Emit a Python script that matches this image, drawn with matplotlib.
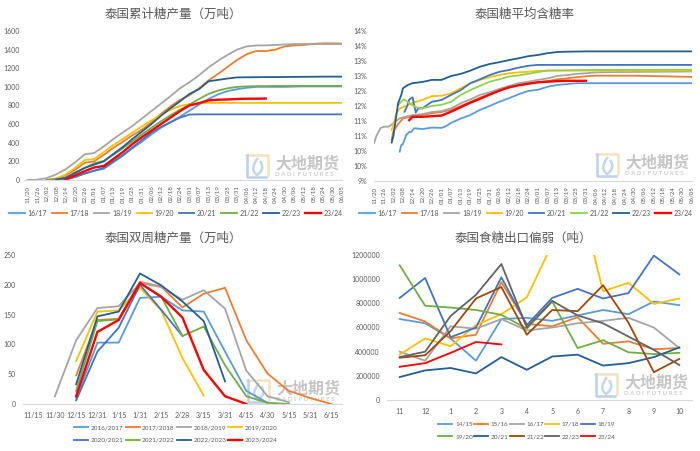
import numpy as np
import matplotlib
matplotlib.use('Agg')
import matplotlib.pyplot as plt
from matplotlib.lines import Line2D
from matplotlib.patches import PathPatch
from matplotlib.path import Path

plt.rcParams['font.family'] = ['Lato', 'Noto Sans CJK SC', 'DejaVu Sans']

n = None

# cumulative output, one value per 6-day report date
dates = ['11/20', '11/26', '12/02', '12/08', '12/14', '12/20', '12/26', '01/01', '01/07', '01/13', '01/19', '01/25',
         '01/31', '02/06', '02/12', '02/18', '02/24', '03/01', '03/07', '03/13', '03/19', '03/25', '03/31', '04/06',
         '04/12', '04/18', '04/24', '04/30', '05/06', '05/12', '05/18', '05/24', '05/30', '06/05']
cum_1617 = [n, n, n, n, 5, 30, 70, 100, 120, 190, 260, 340, 410, 490, 560, 620, 680, 745, 810, 870, 920, 955, 975, 990,
            1000, 1000, 1000, 1000, 1003, 1005, 1005, 1005, 1005, 1005]
cum_1718 = [n, n, 3, 15, 50, 110, 185, 200, 270, 345, 410, 480, 540, 620, 710, 790, 860, 910, 985, 1070, 1140, 1215,
            1290, 1350, 1385, 1385, 1400, 1435, 1445, 1450, 1462, 1468, 1468, 1465]
cum_1819 = [0, 3, 20, 60, 115, 190, 275, 290, 360, 440, 510, 580, 660, 740, 820, 900, 985, 1050, 1125, 1210, 1280, 1345,
            1400, 1435, 1445, 1445, 1450, 1455, 1460, 1460, 1460, 1460, 1460, 1460]
cum_1920 = [n, n, n, 15, 60, 130, 215, 225, 300, 375, 440, 510, 575, 640, 700, 755, 795, 815, 825, 828, 828, 828, 828,
            828, 828, 828, 828, 828, 828, 828, 828, 828, 828, 828]
cum_2021 = [n, n, n, 0, 8, 35, 70, 100, 130, 200, 270, 350, 430, 510, 570, 620, 670, 703, 705, 705, 705, 705, 705, 705,
            705, 705, 705, 705, 705, 705, 705, 705, 705, 705]
cum_2122 = [n, n, 0, 5, 20, 70, 130, 180, 205, 270, 340, 415, 490, 560, 630, 695, 755, 810, 870, 925, 960, 985, 1000,
            1005, 1008, 1008, 1010, 1010, 1010, 1010, 1010, 1010, 1010, 1010]
cum_2223 = [n, n, n, 5, 25, 80, 130, 165, 200, 280, 355, 440, 520, 600, 690, 770, 845, 925, 975, 1060, 1075, 1090, 1102,
            1103, 1104, 1105, 1105, 1106, 1107, 1108, 1109, 1110, 1110, 1110]
cum_2324 = [n, n, n, n, 5, 50, 95, 135, 150, 225, 300, 385, 460, 530, 600, 670, 740, 800, 825, 855, 862, 865, 870, 873,
            873, 875]

# sugar content, days counted from 11/20
cts_days_1617 = [16, 17, 18, 20, 22, 23, 25, 30, 36, 42, 45, 48, 54, 60, 66, 72, 78, 84, 90, 96, 102, 108, 114, 120, 126, 198]
cts_1617 = [9.98, 10.2, 10.23, 10.53, 10.64, 10.62, 10.76, 10.73, 10.78, 10.77, 10.83, 10.94, 11.08, 11.2, 11.37, 11.5,
            11.64, 11.76, 11.89, 12.0, 12.04, 12.14, 12.2, 12.23, 12.26, 12.26]
cts_days_1718 = [11, 12, 15, 18, 24, 30, 36, 42, 48, 54, 60, 66, 72, 78, 84, 90, 96, 102, 108, 114, 120, 126, 132, 138, 162, 180, 198]
cts_1718 = [10.37, 10.64, 10.9, 11.08, 11.16, 11.2, 11.26, 11.3, 11.37, 11.5, 11.64, 11.78, 11.9, 12.01, 12.12, 12.2,
            12.26, 12.29, 12.33, 12.39, 12.42, 12.46, 12.49, 12.51, 12.51, 12.49, 12.47]
cts_days_1819 = [0, 1.5, 4, 6, 9, 12, 16, 24, 30, 36, 42, 48, 54, 60, 66, 72, 78, 84, 90, 96, 102, 108, 114, 120, 126, 132, 138, 150, 198]
cts_1819 = [10.26, 10.5, 10.76, 10.81, 10.81, 10.92, 11.09, 11.2, 11.23, 11.3, 11.33, 11.42, 11.59, 11.72, 11.87, 11.96,
            12.07, 12.17, 12.26, 12.31, 12.37, 12.42, 12.5, 12.53, 12.57, 12.59, 12.62, 12.63, 12.65]
cts_days_1920 = [11, 14, 16, 20, 24, 30, 36, 42, 48, 54, 60, 66, 72, 78, 84, 90, 96, 102, 108, 198]
cts_1920 = [10.7, 11.26, 11.42, 11.5, 11.61, 11.7, 11.83, 11.84, 11.92, 12.09, 12.26, 12.37, 12.46, 12.53, 12.59, 12.62,
            12.64, 12.67, 12.68, 12.68]
cts_days_2021 = [19, 20.5, 22, 24, 26, 27.5, 30, 36, 42, 48, 54, 60, 66, 72, 78, 84, 90, 96, 102, 198]
cts_2021 = [11.31, 11.48, 11.72, 11.79, 11.28, 11.42, 11.42, 11.64, 11.7, 11.87, 12.03, 12.26, 12.39, 12.53, 12.64, 12.7,
            12.78, 12.84, 12.87, 12.87]
cts_days_2122 = [15, 18.5, 22, 26, 30, 36, 42, 48, 54, 60, 66, 72, 78, 84, 90, 96, 102, 108, 120, 132, 198]
cts_2122 = [11.53, 11.73, 11.59, 11.46, 11.42, 11.5, 11.54, 11.64, 11.87, 12.03, 12.17, 12.31, 12.39, 12.48, 12.52,
            12.57, 12.63, 12.68, 12.69, 12.7, 12.71]
cts_days_2223 = [11, 12, 15, 17, 18, 21, 24, 30, 36, 42, 48, 54, 60, 66, 72, 78, 84, 90, 96, 102, 108, 114, 120, 132, 198]
cts_2223 = [10.28, 10.48, 11.59, 11.87, 12.09, 12.2, 12.26, 12.3, 12.37, 12.37, 12.5, 12.57, 12.68, 12.81, 12.9, 12.96,
            13.03, 13.09, 13.16, 13.2, 13.26, 13.3, 13.31, 13.32, 13.32]
cts_days_2324 = [22, 24, 30, 36, 42, 48, 54, 60, 66, 72, 78, 84, 90, 96, 102, 108, 114, 120, 132]
cts_2324 = [11.03, 11.14, 11.14, 11.16, 11.18, 11.31, 11.46, 11.61, 11.74, 11.88, 12.01, 12.12, 12.19, 12.24, 12.29,
            12.31, 12.33, 12.34, 12.34]

# biweekly output
fortnights = ['11/15', '11/30', '12/15', '12/31', '1/15', '1/31', '2/15', '2/28', '3/15', '3/31', '4/15', '4/30',
              '5/15', '5/31', '6/15']
bi_1617 = [n, n, 10, 103, 103, 178, 180, 157, 155, 88, 22, 2]
bi_1718 = [n, n, 48, 141, 143, 205, 197, 162, 185, 195, 107, 51, 22, 10, 0]
bi_1819 = [n, 13, 107, 161, 164, 203, 196, 175, 191, 160, 56, 13, 3]
bi_1920 = [n, n, 72, 155, 157, 195, 157, 77, 14]
bi_2021 = [n, n, 6, 88, 128, 200, 158, 114]
bi_2122 = [n, n, 22, 139, 142, 203, 180, 114, 130, 65, 13, 2, 0]
bi_2223 = [n, n, 33, 147, 155, 219, 199, 172, 139, 38]
bi_2324 = [n, n, 13, 121, 141, 203, 180, 145, 57, 13, 0]

# monthly exports, thousand tonnes
months = ['11', '12', '1', '2', '3', '4', '5', '6', '7', '8', '9', '10']
exp_1415 = [670, 635, 510, 325, 670, 680, 655, 700, 745, 710, 815, 785]
exp_1516 = [720, 650, 510, 540, 975, 630, 610, 685, 465, 485, 420, 430]
exp_1617 = [400, 325, 610, 590, 670, 575, 600, 635, 655, 680, 600, 430]
exp_1718 = [375, 510, 445, 620, 710, 850, 1290, 1750, 900, 970, 795, 840]
exp_1819 = [845, 1010, 520, 600, 1015, 620, 845, 920, 840, 885, 1195, 1040]
exp_1920 = [1115, 780, 765, 745, 705, 590, 815, 430, 495, 395, 380, 390]
exp_2021 = [190, 245, 265, 220, 355, 250, 360, 375, 285, 305, 355, 435]
exp_2122 = [350, 370, 570, 840, 935, 540, 745, 735, 950, 640, 230, 340]
exp_2223 = [355, 400, 695, 870, 1125, 600, 820, 700, 635, 525, 415, 290]
exp_2324 = [275, 305, 390, 480, 460]

LIGHT = '#5B9BD5'
ORANGE = '#ED7D31'
GREY = '#A5A5A5'
YELLOW = '#FFC000'
BLUE = '#4472C4'
GREEN = '#70AD47'
NAVY = '#255E91'
RED = '#FF0000'
BROWN = '#9E480E'
DARKGREY = '#636363'
TEXT = '#595959'

W, H = 700, 451
TICK = 5
TITLE = 9


def make_axes(fig, left, right, top, bottom, ypad):
    ax = fig.add_axes([left / W, 1 - bottom / H, (right - left) / W, (bottom - top) / H])
    ax.patch.set_alpha(0)
    for s in ['top', 'left', 'right']:
        ax.spines[s].set_visible(False)
    ax.spines['bottom'].set_color('#D9D9D9')
    ax.spines['bottom'].set_linewidth(0.8)
    ax.tick_params(axis='both', length=0, labelsize=TICK, labelcolor=TEXT)
    ax.tick_params(axis='y', pad=ypad)
    return ax


def title(fig, x, y, text):
    fig.text(x / W, 1 - y / H, text, fontsize=TITLE, color=TEXT, ha='center', va='center')


def watermark(fig, x, y):
    # company mark: gold and blue frame with a swoosh, name beside it (x, y = top left in pixels)
    def to_fig(pts):
        return [(a / W, 1 - b / H) for a, b in pts]

    tr = fig.transFigure
    gold = to_fig([(x, y + 1), (x + 22, y + 1), (x + 22, y + 21)])
    blue = to_fig([(x + 1, y + 1), (x + 1, y + 23), (x + 20, y + 23)])
    fig.add_artist(Line2D(*zip(*gold), transform=tr, color='#F3E3BE', lw=1.8, zorder=-1))
    fig.add_artist(Line2D(*zip(*blue), transform=tr, color='#BCD0E8', lw=1.8, zorder=-1))
    swoosh = to_fig([(x + 12, y + 4), (x + 3, y + 15), (x + 11, y + 21), (x + 20, y + 15), (x + 14, y + 7)])
    codes = [Path.MOVETO, Path.CURVE3, Path.CURVE3, Path.CURVE3, Path.CURVE3]
    fig.add_artist(PathPatch(Path(swoosh, codes), transform=tr, fill=False, ec='#C4D6EA', lw=1.8, zorder=-1))
    fig.text((x + 29) / W, 1 - (y + 9) / H, '大地期货', fontsize=11.5, color='#C6C6C6', weight='bold',
             va='center', ha='left', zorder=-1)
    fig.text((x + 29) / W, 1 - (y + 20.5) / H, 'D A D I  F U T U R E S', fontsize=4.4, color='#CDCDCD', weight='bold',
             va='center', ha='left', zorder=-1)


def two_rows(handles, labels, ncol):
    # legends fill column by column, so swap order to read across the rows
    order = [i for c in range(ncol) for i in (c, c + ncol)]
    return [handles[i] for i in order], [labels[i] for i in order]


def legend(fig, ax, handles, labels, cx, cy, ncol, hlen, cspace, size=TICK):
    ax.legend(handles, labels, loc='center', bbox_to_anchor=(cx / W, 1 - cy / H), bbox_transform=fig.transFigure,
              ncol=ncol, frameon=False, fontsize=size, labelcolor=TEXT, handlelength=hlen, handletextpad=0.4,
              columnspacing=cspace, labelspacing=1.1, borderpad=0)


fig = plt.figure(figsize=(7, 4.51), dpi=100)
lw = 1.3

# top left panel
ax1 = make_axes(fig, 24, 342, 31, 180, 3)
x = np.arange(len(dates))
cum = [cum_1617, cum_1718, cum_1819, cum_1920, cum_2021, cum_2122, cum_2223, cum_2324]
seasons = ['16/17', '17/18', '18/19', '19/20', '20/21', '21/22', '22/23', '23/24']
cum_colors = [LIGHT, ORANGE, GREY, YELLOW, BLUE, GREEN, NAVY, RED]
for vals, c, lab in zip(cum, cum_colors, seasons):
    y = np.array(vals, dtype=float)
    ax1.plot(x[:len(y)], y, color=c, lw=lw, label=lab)
ax1.lines[-1].set_linewidth(1.7)
ax1.set_xlim(-0.37, 33)
ax1.set_ylim(0, 1600)
ax1.set_yticks(range(0, 1601, 200))
ax1.set_xticks(x)
ax1.set_xticklabels(dates, rotation=90, fontsize=4.4)
ax1.tick_params(axis='x', pad=4)
title(fig, 173, 14, '泰国累计糖产量（万吨）')
legend(fig, ax1, *ax1.get_legend_handles_labels(), 176, 213, 8, 2.2, 0.7)

# top right panel
ax2 = make_axes(fig, 374, 692, 31, 181, 5)
cts = [cts_1617, cts_1718, cts_1819, cts_1920, cts_2021, cts_2122, cts_2223, cts_2324]
cts_days = [cts_days_1617, cts_days_1718, cts_days_1819, cts_days_1920, cts_days_2021, cts_days_2122, cts_days_2223,
            cts_days_2324]
cts_colors = [LIGHT, ORANGE, GREY, YELLOW, BLUE, '#92D050', NAVY, RED]
for d, vals, c, lab in zip(cts_days, cts, cts_colors, seasons):
    ax2.plot(d, vals, color=c, lw=lw, label=lab)
ax2.lines[-1].set_linewidth(1.7)
ax2.set_xlim(0, 198)
ax2.set_ylim(9, 14)
ax2.set_yticks(np.arange(9, 14.01, 0.5))
ax2.set_yticklabels(['9%', '10%', '10%', '11%', '11%', '12%', '12%', '13%', '13%', '14%', '14%'])
ax2.set_xticks(x * 6)
ax2.set_xticklabels(dates, rotation=90, fontsize=4.4)
ax2.tick_params(axis='x', pad=4)
title(fig, 525, 14, '泰国糖平均含糖率')
legend(fig, ax2, *ax2.get_legend_handles_labels(), 526, 213, 8, 2.2, 0.7)

# bottom left panel
ax3 = make_axes(fig, 23, 342, 255, 404, 5)
bi = [bi_1617, bi_1718, bi_1819, bi_1920, bi_2021, bi_2122, bi_2223, bi_2324]
bi_labels = ['2016/2017', '2017/2018', '2018/2019', '2019/2020', '2020/2021', '2021/2022', '2022/2023', '2023/2024']
for vals, c, lab in zip(bi, cum_colors, bi_labels):
    y = np.array(vals, dtype=float)
    ax3.plot(np.arange(len(y)), y, color=c, lw=lw, label=lab)
ax3.lines[-1].set_linewidth(1.7)
ax3.set_xlim(-0.5, 14.5)
ax3.set_ylim(0, 250)
ax3.set_yticks(range(0, 251, 50))
ax3.set_xticks(range(len(fortnights)))
ax3.set_xticklabels(fortnights)
ax3.tick_params(axis='x', pad=6)
title(fig, 173, 238, '泰国双周糖产量（万吨）')
h, l = two_rows(*ax3.get_legend_handles_labels(), 4)
legend(fig, ax3, h, l, 176, 434, 4, 2.2, 0.3, size=4.6)

# bottom right panel
ax4 = make_axes(fig, 387, 692, 255, 400, 5)
exports = [exp_1415, exp_1516, exp_1617, exp_1718, exp_1819, exp_1920, exp_2021, exp_2122, exp_2223, exp_2324]
exp_labels = ['14/15', '15/16', '16/17', '17/18', '18/19', '19/20', '20/21', '21/22', '22/23', '23/24']
exp_colors = [LIGHT, ORANGE, GREY, YELLOW, BLUE, GREEN, NAVY, BROWN, DARKGREY, RED]
for vals, c, lab in zip(exports, exp_colors, exp_labels):
    ax4.plot(np.arange(len(vals)), np.array(vals) * 1000, color=c, lw=lw, label=lab)
ax4.set_xlim(-0.5, 11.5)
ax4.set_ylim(0, 1200000)
ax4.set_yticks(range(0, 1200001, 200000))
ax4.ticklabel_format(axis='y', style='plain')
ax4.set_xticks(range(len(months)))
ax4.set_xticklabels(months)
ax4.tick_params(axis='x', pad=6)
title(fig, 523, 238, '泰国食糖出口偏弱（吨）')
h, l = two_rows(*ax4.get_legend_handles_labels(), 5)
legend(fig, ax4, h, l, 527, 430.5, 5, 2.2, 0.2, size=4.6)

watermark(fig, 246, 154)
watermark(fig, 596, 153)
watermark(fig, 247, 379)
watermark(fig, 595, 373)

fig.savefig('out.png', dpi=100)
